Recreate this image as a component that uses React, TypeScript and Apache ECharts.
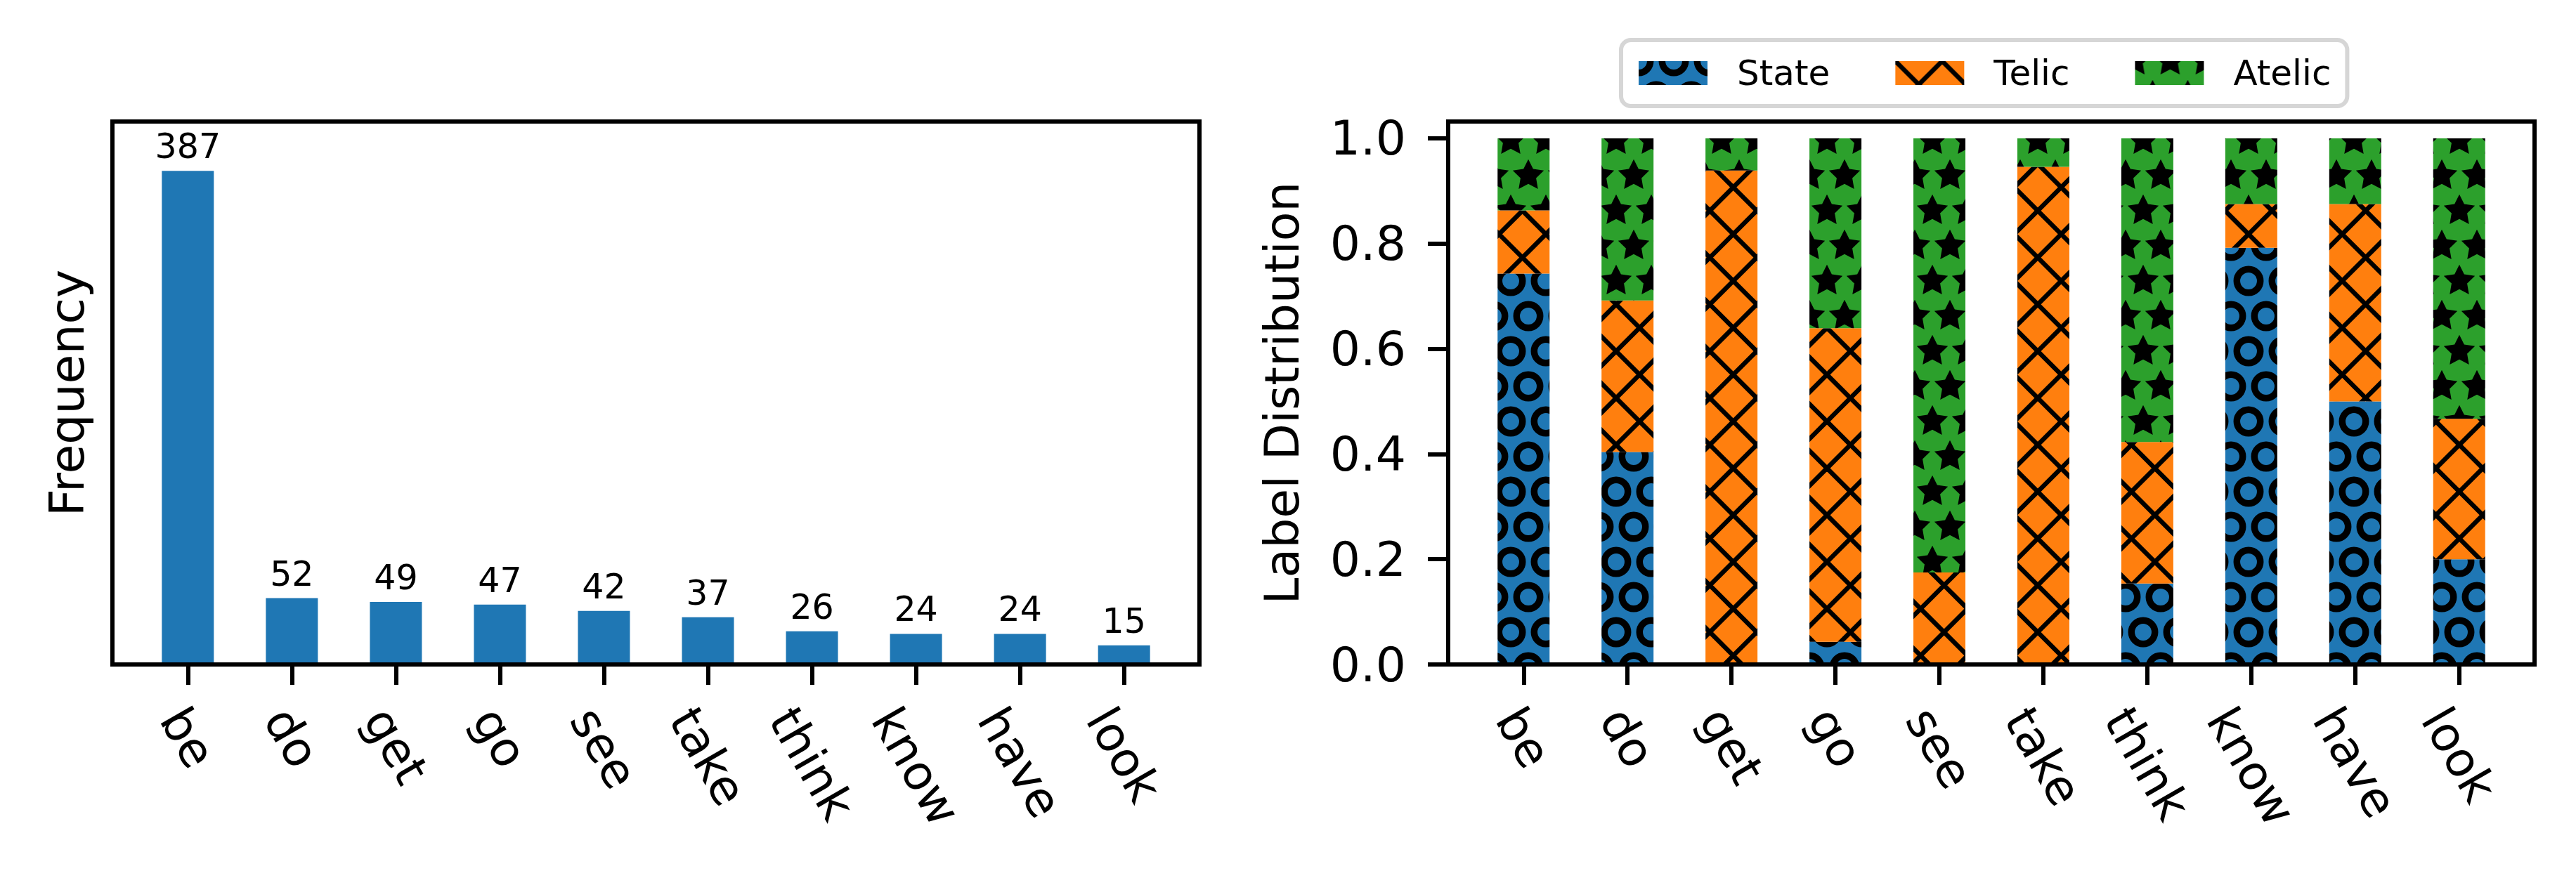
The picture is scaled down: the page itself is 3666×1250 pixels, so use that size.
import React, { useEffect, useRef } from "react";
import * as echarts from "echarts";

// ---------- data ----------
const categories = ["be", "do", "get", "go", "see", "take", "think", "know", "have", "look"];
const frequency = [387, 52, 49, 47, 42, 37, 26, 24, 24, 15];
const seriesNames = ["State", "Telic", "Atelic"];
const stateShare = [0.743, 0.404, 0, 0.043, 0, 0, 0.154, 0.792, 0.5, 0.2];
const telicShare = [0.12, 0.288, 0.939, 0.596, 0.175, 0.946, 0.269, 0.083, 0.375, 0.267];
const atelicShare = [0.137, 0.308, 0.061, 0.361, 0.825, 0.054, 0.577, 0.125, 0.125, 0.533];
const shareTicks = [0, 0.2, 0.4, 0.6, 0.8, 1.0];

// ---------- style / layout ----------
const FONT = '"DejaVu Sans", sans-serif';
const W = 3666;
const H = 1250;
const TICK_FS = 68;
const BLUE = "#1f77b4";
const ORANGE = "#ff7f0e";
const GREEN = "#2ca02c";
const LINE_W = 6;
const X_MIN = -0.725;
const X_MAX = 9.725;
const FREQ_MAX = 425.7;
const SHARE_MAX = 1.032;

function tile(w: number, h: number, draw: (ctx: CanvasRenderingContext2D) => void) {
  const c = document.createElement("canvas");
  c.width = w;
  c.height = h;
  const ctx = c.getContext("2d") as CanvasRenderingContext2D;
  draw(ctx);
  return { image: c.toDataURL(), repeat: "repeat", imageWidth: w, imageHeight: h };
}

function lattice(fn: (x: number, y: number) => void) {
  for (let i = -1; i <= 2; i++) {
    for (let j = -1; j <= 2; j++) {
      fn(i * 50, j * 100);
      fn(25 + i * 50, 50 + j * 100);
    }
  }
}

function makePatterns() {
  const circles = tile(50, 100, (ctx) => {
    ctx.fillStyle = BLUE;
    ctx.fillRect(0, 0, 50, 100);
    ctx.strokeStyle = "#000";
    ctx.lineWidth = 9.5;
    lattice((x, y) => {
      ctx.beginPath();
      ctx.arc(x, y, 16.7, 0, Math.PI * 2);
      ctx.stroke();
    });
  });
  const crosses = tile(200, 200, (ctx) => {
    ctx.fillStyle = ORANGE;
    ctx.fillRect(0, 0, 200, 200);
    ctx.strokeStyle = "#000";
    ctx.lineWidth = 6.5;
    const p = 200 / 3;
    for (let k = -4; k <= 7; k++) {
      ctx.beginPath();
      ctx.moveTo(k * p - 20, -20);
      ctx.lineTo(k * p + 220, 220);
      ctx.stroke();
      ctx.beginPath();
      ctx.moveTo(k * p + 20, -20);
      ctx.lineTo(k * p - 220, 220);
      ctx.stroke();
    }
  });
  const stars = tile(50, 100, (ctx) => {
    ctx.fillStyle = GREEN;
    ctx.fillRect(0, 0, 50, 100);
    ctx.fillStyle = "#000";
    ctx.strokeStyle = "#000";
    ctx.lineWidth = 6.5;
    ctx.lineJoin = "miter";
    ctx.miterLimit = 10;
    const R = 16;
    const r = 8;
    lattice((cx, cy) => {
      ctx.beginPath();
      for (let k = 0; k < 10; k++) {
        const rad = k % 2 === 0 ? R : r;
        const a = -Math.PI / 2 + (k * Math.PI) / 5;
        const px = cx + rad * Math.cos(a);
        const py = cy + rad * Math.sin(a);
        if (k === 0) ctx.moveTo(px, py);
        else ctx.lineTo(px, py);
      }
      ctx.closePath();
      ctx.fill();
      ctx.stroke();
    });
  });
  return [circles, crosses, stars];
}

function measureWidth(text: string, size: number) {
  const c = document.createElement("canvas");
  const ctx = c.getContext("2d") as CanvasRenderingContext2D;
  ctx.font = `${size}px "DejaVu Sans"`;
  return ctx.measureText(text).width;
}

function xLabelSeries(axisIndex: number) {
  const rot = Math.PI / 3;
  return {
    type: "custom",
    xAxisIndex: axisIndex,
    yAxisIndex: axisIndex,
    silent: true,
    clip: false,
    z: 5,
    data: categories.map((_, i) => [i, 0]),
    renderItem: (params: any, api: any) => {
      const i = api.value(0);
      const p = api.coord([i, 0]);
      const text = categories[params.dataIndex];
      const w = measureWidth(text, TICK_FS);
      const boxH = w * Math.sin(rot) + 81 * Math.cos(rot);
      return {
        type: "text",
        x: p[0],
        y: p[1] + 47 + boxH / 2,
        rotation: -rot,
        style: {
          text,
          fontSize: TICK_FS,
          fontFamily: FONT,
          fill: "#000",
          align: "center",
          verticalAlign: "middle",
        },
      };
    },
  };
}

function xAxisFor(gridIndex: number) {
  return {
    type: "value",
    gridIndex,
    min: X_MIN,
    max: X_MAX,
    z: 10,
    axisLine: { show: true, onZero: false, lineStyle: { color: "#000", width: LINE_W } },
    axisTick: {
      show: true,
      length: 29,
      customValues: categories.map((_, i) => i),
      lineStyle: { color: "#000", width: LINE_W },
    },
    axisLabel: { show: false },
    splitLine: { show: false },
  };
}

export default function App() {
  const ref = useRef<HTMLDivElement>(null);

  useEffect(() => {
    document.body.style.margin = "0";
    if (!ref.current) return;
    const chart = echarts.init(ref.current, undefined, { renderer: "svg", width: W, height: H });
    const patterns = makePatterns();
    const shares = [stateShare, telicShare, atelicShare];

    const gridBase = {
      top: 173,
      height: 773,
      show: true,
      borderColor: "#000",
      borderWidth: LINE_W,
      backgroundColor: "transparent",
      containLabel: false,
      outerBoundsMode: "none",
    };

    const option: any = {
      animation: false,
      backgroundColor: "#fff",
      textStyle: { fontFamily: FONT },
      grid: [
        { ...gridBase, left: 160, width: 1547 },
        { ...gridBase, left: 2061, width: 1546 },
      ],
      legend: {
        left: 2307,
        top: 57,
        orient: "horizontal",
        selectedMode: false,
        data: seriesNames.map((n, i) => ({ name: n, icon: "rect", itemStyle: { color: patterns[i] } })),
        itemWidth: 98,
        itemHeight: 34,
        itemGap: 93,
        textStyle: { fontSize: 50, fontFamily: FONT, color: "#000", padding: [0, 0, 0, 37] },
        padding: [22, 23, 22, 25],
        backgroundColor: "#fff",
        borderColor: "#d6d6d6",
        borderWidth: 6,
        borderRadius: 14,
      },
      xAxis: [xAxisFor(0), xAxisFor(1)],
      yAxis: [
        {
          type: "value",
          gridIndex: 0,
          min: 0,
          max: FREQ_MAX,
          name: "Frequency",
          nameLocation: "middle",
          nameGap: 31,
          nameTextStyle: { fontSize: TICK_FS, fontFamily: FONT, color: "#000" },
          axisLine: { show: false, onZero: false },
          axisTick: { show: false },
          axisLabel: { show: false },
          splitLine: { show: false },
        },
        {
          type: "value",
          gridIndex: 1,
          min: 0,
          max: SHARE_MAX,
          name: "Label Distribution",
          nameLocation: "middle",
          nameGap: 203,
          nameTextStyle: { fontSize: TICK_FS, fontFamily: FONT, color: "#000" },
          axisLine: { show: false, onZero: false },
          axisTick: {
            show: true,
            length: 29,
            customValues: shareTicks,
            lineStyle: { color: "#000", width: LINE_W },
          },
          axisLabel: {
            show: true,
            customValues: shareTicks,
            margin: 60,
            fontSize: TICK_FS,
            fontFamily: FONT,
            color: "#000",
            formatter: (v: number) => v.toFixed(1),
          },
          splitLine: { show: false },
        },
      ],
      series: [
        {
          type: "bar",
          name: "Frequency",
          xAxisIndex: 0,
          yAxisIndex: 0,
          barWidth: 74,
          silent: true,
          data: frequency.map((v, i) => [v, i]),
          encode: { x: 1, y: 0 },
          itemStyle: { color: BLUE },
          label: {
            show: true,
            position: "top",
            distance: 10,
            fontSize: 49,
            fontFamily: FONT,
            color: "#000",
            formatter: (p: any) => String(p.value[0]),
          },
        },
        ...seriesNames.map((name, k) => ({
          type: "bar",
          name,
          stack: "share",
          xAxisIndex: 1,
          yAxisIndex: 1,
          barWidth: 74,
          silent: true,
          data: shares[k].map((v, i) => [v, i]),
          encode: { x: 1, y: 0 },
          itemStyle: { color: patterns[k] },
        })),
        xLabelSeries(0),
        xLabelSeries(1),
      ],
    };

    chart.setOption(option);
    return () => chart.dispose();
  }, []);

  return <div ref={ref} style={{ width: W, height: H, position: "absolute", left: 0, top: 0 }} />;
}
